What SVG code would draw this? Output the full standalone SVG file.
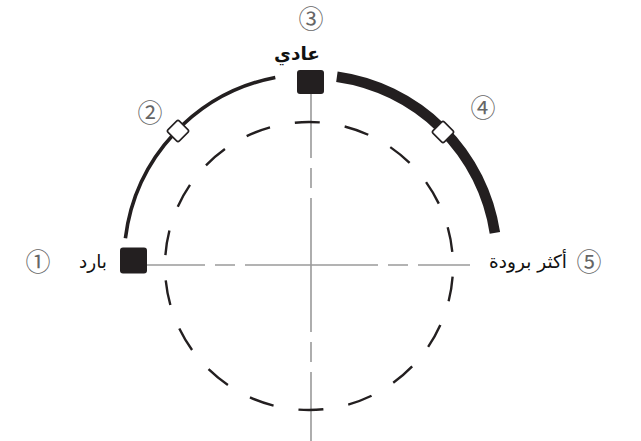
<svg xmlns="http://www.w3.org/2000/svg" width="641" height="441" viewBox="0 0 641 441">
<style>
.cl{fill:none;stroke:#9a9a9a;stroke-width:1.6}
.dc{fill:none;stroke:#231f20;stroke-width:2.4;stroke-dasharray:25 25.27;stroke-dashoffset:39.67}
.arc{fill:none;stroke:#231f20;stroke-linecap:butt}
.sq{fill:#231f20}
.dm{fill:#fff;stroke:#231f20;stroke-width:1.6}
.num{font-family:"Noto Sans CJK JP","DejaVu Sans",sans-serif;font-size:25px;fill:#666;text-anchor:middle}
.ar{font-family:"DejaVu Sans",sans-serif;font-size:18.5px;fill:#111;text-anchor:middle}
</style>
<rect width="641" height="441" fill="#fff"/>
<g id="connectors">
<path class="cl" d="M311,265 H147" style="stroke-dasharray:66 10 20 10 300"/>
<path class="cl" d="M311,265 H470" style="stroke-dasharray:67 10 20 10 300"/>
<path class="cl" d="M311,265 V94" style="stroke-dasharray:67 10 20 10 300"/>
<path class="cl" d="M311,265 V441" style="stroke-dasharray:67 10 20 10 300"/>
<circle class="dc" cx="309" cy="266" r="144"/>
<path class="arc" stroke-width="3.6" d="M125.4,238.2 A187,187 0 0 1 275.3,77.4"/>
<path class="arc" stroke-width="10.5" d="M336.9,76.8 A186,186 0 0 1 494.9,232.9"/>
</g>
<g id="n1">
<rect class="sq" x="120" y="247.5" width="27" height="26" rx="3"/>
<text class="ar" x="93" y="268" direction="rtl">بارد</text>
<text class="num" x="38" y="271">①</text>
</g>
<g id="n2">
<rect class="dm" x="-8" y="-8" width="16" height="16" rx="2" transform="translate(178,131) rotate(45)"/>
<text class="num" x="150" y="122">②</text>
</g>
<g id="n3">
<rect class="sq" x="297" y="70" width="27" height="24" rx="3"/>
<text class="ar" x="297" y="60" font-weight="bold" direction="rtl">عادي</text>
<text class="num" x="311" y="28">③</text>
</g>
<g id="n4">
<rect class="dm" x="-8" y="-8" width="16" height="16" rx="2" transform="translate(443,132) rotate(45)"/>
<text class="num" x="483" y="117">④</text>
</g>
<g id="n5">
<text class="ar" x="528" y="268" direction="rtl">أكثر برودة</text>
<text class="num" x="589" y="271">⑤</text>
</g>
</svg>
